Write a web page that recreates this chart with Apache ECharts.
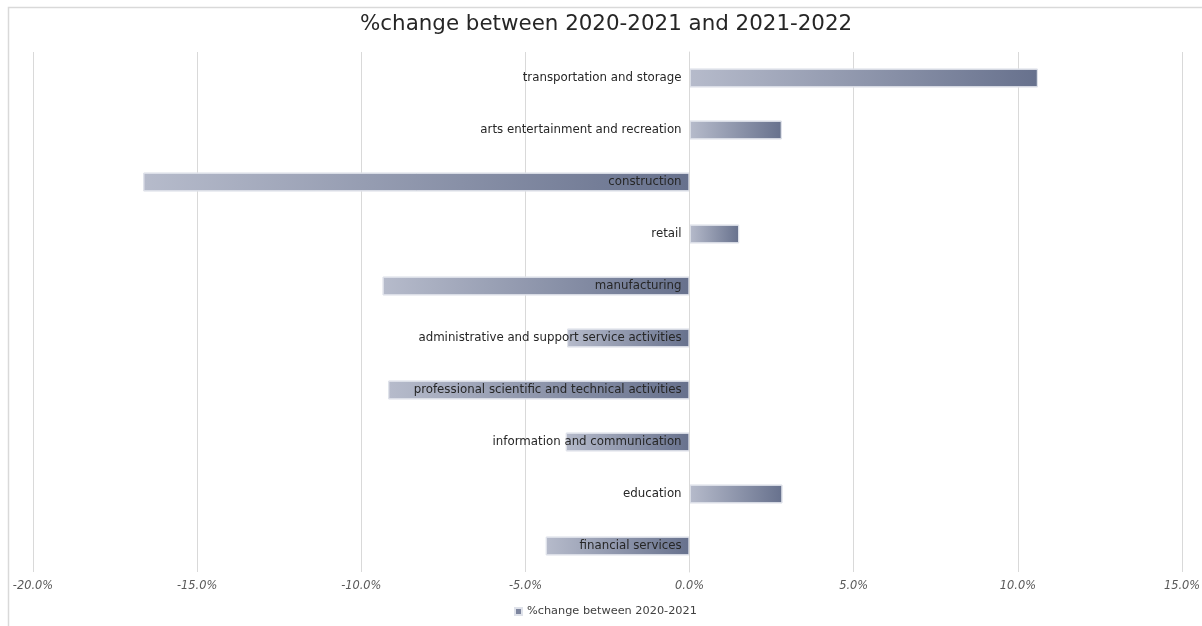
<!DOCTYPE html>
<html>
<head>
<meta charset="utf-8">
<title>%change between 2020-2021 and 2021-2022</title>
<script src="https://cdn.jsdelivr.net/npm/echarts@6/dist/echarts.min.js"></script>
<style>
  html, body { margin: 0; padding: 0; background: #ffffff; }
  #chart { width: 1202px; height: 626px; }
</style>
</head>
<body>
<div id="chart"></div>
<script>
// Sectors, listed top to bottom
const sectors = [
  'transportation and storage',
  'arts entertainment and recreation',
  'construction',
  'retail',
  'manufacturing',
  'administrative and support service activities',
  'professional scientific and technical activities',
  'information and communication',
  'education',
  'financial services'
];

// % change between 2020-2021 and 2021-2022
const change2021 = [10.61, 2.81, -16.64, 1.51, -9.35, -3.73, -9.18, -3.77, 2.83, -4.38];

const seriesName = '%change between 2020-2021';
const axisMin = -20;
const axisMax = 15;
const axisStep = 5;

const gridLeft = 33;

const chart = echarts.init(document.getElementById('chart'), null, { renderer: 'canvas' });

const barGradient = new echarts.graphic.LinearGradient(0, 0, 1, 0, [
  { offset: 0, color: '#b6bbcb' },
  { offset: 1, color: '#67718d' }
]);

chart.setOption({
  backgroundColor: '#ffffff',
  animation: false,
  title: {
    text: '%change between 2020-2021 and 2021-2022',
    left: 355,
    top: 9,
    textStyle: {
      fontFamily: 'DejaVu Sans',
      fontSize: 21.4,
      fontWeight: 'normal',
      color: '#262626'
    }
  },
  graphic: [{
    type: 'rect',
    left: 6,
    top: 5,
    shape: { width: 1210, height: 640 },
    style: { fill: 'none', stroke: '#d9d9d9', lineWidth: 1.5 },
    silent: true,
    z: -1
  }],
  legend: {
    bottom: 4,
    left: 509,
    icon: 'rect',
    itemWidth: 7,
    itemHeight: 7,
    itemGap: 6,
    itemStyle: { color: '#7d859e' },
    textStyle: { fontFamily: 'DejaVu Sans', fontSize: 11.3, color: '#404040' },
    data: [seriesName]
  },
  grid: {
    left: gridLeft, right: 20, top: 52, bottom: 54,
    containLabel: false,
    outerBoundsMode: 'none'
  },
  xAxis: {
    type: 'value',
    min: axisMin,
    max: axisMax,
    interval: axisStep,
    axisLine: { show: false },
    axisTick: { show: false },
    splitLine: { show: true, lineStyle: { color: '#d9d9d9', width: 1 } },
    axisLabel: {
      formatter: v => v.toFixed(1) + '%',
      fontFamily: 'DejaVu Sans',
      fontStyle: 'italic',
      fontSize: 11.4,
      color: '#595959',
      margin: 9
    }
  },
  yAxis: {
    type: 'category',
    data: sectors,
    inverse: true,
    position: 'left',
    z: 5,
    axisLine: { show: true, lineStyle: { color: '#d9d9d9' } },
    axisTick: { show: false },
    axisLabel: {
      fontFamily: 'DejaVu Sans',
      fontSize: 11.8,
      color: '#262626',
      margin: 8
    }
  },
  series: [{
    name: seriesName,
    type: 'bar',
    data: change2021,
    barWidth: '36%',
    itemStyle: {
      color: barGradient,
      borderColor: '#dfe2ea',
      borderWidth: 1
    }
  }]
});

// Place the category axis (and its labels) on the 0% line of the value axis
const zeroX = chart.convertToPixel({ xAxisIndex: 0 }, 0);
chart.setOption({ yAxis: { offset: -(zeroX - gridLeft) } });
</script>
</body>
</html>
